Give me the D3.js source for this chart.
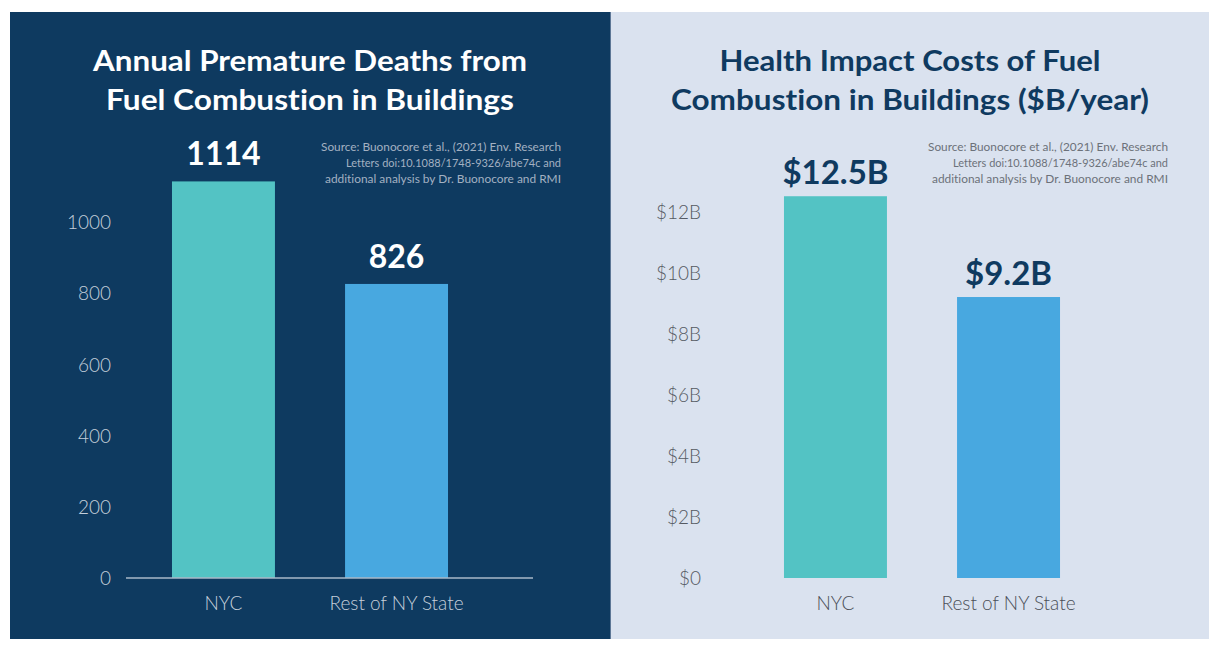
<!DOCTYPE html>
<html><head><meta charset="utf-8">
<script src="https://cdn.jsdelivr.net/npm/d3@7"></script>
<style>
html,body{margin:0;padding:0;background:#fff;}
svg{display:block;}
text{font-family:"Source Sans Pro","Lato","Open Sans",sans-serif;font-variant-ligatures:none;font-feature-settings:"liga" 0,"clig" 0;}
</style></head><body>
<svg id="c" width="1226" height="650"></svg>
<script>
// ---- data ----
const categories = ["NYC", "Rest of NY State"];
const deaths = [1114, 826];
const deathLabels = ["1114", "826"];
const deathTicks = [0, 200, 400, 600, 800, 1000];
const deathTickLabels = ["0", "200", "400", "600", "800", "1000"];
const costs = [12.5, 9.2];
const costLabels = ["$12.5B", "$9.2B"];
const costTicks = [0, 2, 4, 6, 8, 10, 12];
const costTickLabels = ["$0", "$2B", "$4B", "$6B", "$8B", "$10B", "$12B"];
const leftTitle = ["Annual Premature Deaths from", "Fuel Combustion in Buildings"];
const rightTitle = ["Health Impact Costs of Fuel", "Combustion in Buildings ($B/year)"];
const sourceLines = ["Source: Buonocore et al., (2021) Env. Research",
                     "Letters doi:10.1088/1748-9326/abe74c and",
                     "additional analysis by Dr. Buonocore and RMI"];
const barColors = ["#53c3c4", "#48a8e0"];

const svg = d3.select("#c");
const FONT = '"Source Sans Pro","Lato","Open Sans",sans-serif';

function panel(o) {
  const g = svg.append("g");
  g.append("rect").attr("x", o.px).attr("y", 12).attr("width", o.pw).attr("height", 627).attr("fill", o.bg);

  // title
  o.title.forEach((t, i) => {
    g.append("text").attr("x", o.titleX).attr("y", [71, 110][i])
      .attr("text-anchor", "middle").attr("font-weight", 700).attr("font-size", 28)
      .attr("fill", o.titleColor)
      .attr("textLength", o.titleW[i]).attr("lengthAdjust", "spacingAndGlyphs")
      .text(t);
  });
  // source
  sourceLines.forEach((t, i) => {
    g.append("text").attr("x", o.srcX).attr("y", 151 + i * 16)
      .attr("text-anchor", "end").attr("font-weight", 400).attr("font-size", 11.5)
      .attr("fill", o.srcColor)
      .attr("textLength", [240, 215, 236][i]).attr("lengthAdjust", "spacingAndGlyphs")
      .text(t);
  });

  const x = d3.scaleBand().domain(categories).range(o.xr).paddingInner(0.405).paddingOuter(0.127);
  const y = d3.scaleLinear().domain(o.domain).range([578, o.topY]);

  // y axis
  const ya = d3.axisLeft(y).tickValues(o.ticks).tickFormat((d, i) => o.tickLabels[i]).tickSize(0).tickPadding(0);
  const yg = g.append("g").attr("transform", `translate(${o.tickX},0)`).call(ya);
  yg.select(".domain").remove();
  yg.selectAll("text").attr("font-size", 19).attr("font-weight", 300).attr("fill", o.tickColor)
    .attr("font-family", FONT).attr("dy", "0.35em");

  // bars
  g.selectAll(".bar").data(o.values).enter().append("rect")
    .attr("x", (d, i) => x(categories[i])).attr("width", x.bandwidth())
    .attr("y", d => y(d)).attr("height", d => y(0) - y(d))
    .attr("fill", (d, i) => barColors[i]);

  // baseline
  if (o.axisLine) {
    g.append("line").attr("x1", o.axisLine[0]).attr("x2", o.axisLine[1])
      .attr("y1", y(0)).attr("y2", y(0)).attr("stroke", "#a9b8c8").attr("stroke-width", 1.5);
  }

  // value labels
  g.selectAll(".vl").data(o.values).enter().append("text")
    .attr("x", (d, i) => x(categories[i]) + x.bandwidth() / 2)
    .attr("y", d => y(d) - o.labelGap)
    .attr("text-anchor", "middle").attr("font-weight", 700).attr("font-size", o.vlSize)
    .attr("fill", o.valueColor)
    .text((d, i) => o.valueLabels[i]);

  // x axis labels
  const xa = d3.axisBottom(x).tickSize(0).tickPadding(0);
  const xg = g.append("g").attr("transform", `translate(0,${y(0)})`).call(xa);
  xg.select(".domain").remove();
  xg.selectAll("text").attr("font-size", 19).attr("font-weight", 300).attr("fill", o.catColor)
    .attr("font-family", FONT).attr("y", 0).attr("dy", 32);
}

panel({
  px: 10, pw: 600, bg: "#0e3a60",
  title: leftTitle, titleX: 310, titleW: [434, 408], titleColor: "#ffffff",
  srcX: 561, srcColor: "#a3b1c2",
  xr: [150, 470], domain: [0, 1000], topY: 222,
  ticks: deathTicks, tickLabels: deathTickLabels, tickX: 111, tickColor: "#c5cfdb",
  values: deaths, valueLabels: deathLabels, valueColor: "#ffffff", labelGap: 16, vlSize: 32,
  axisLine: [126, 533], catColor: "#c5cfdb"
});

panel({
  px: 611, pw: 598, bg: "#dae2ef",
  title: rightTitle, titleX: 910, titleW: [381, 478], titleColor: "#0f3a60",
  srcX: 1168, srcColor: "#6c7179",
  xr: [762, 1082], domain: [0, 12], topY: 211.5,
  ticks: costTicks, tickLabels: costTickLabels, tickX: 701, tickColor: "#555a62",
  values: costs, valueLabels: costLabels, valueColor: "#0f3a60", labelGap: 12, vlSize: 33,
  axisLine: null, catColor: "#4a4f57"
});
// thin divider between panels
svg.append("rect").attr("x", 610).attr("y", 12).attr("width", 1).attr("height", 627).attr("fill", "#5d7796");
</script>
</body></html>
